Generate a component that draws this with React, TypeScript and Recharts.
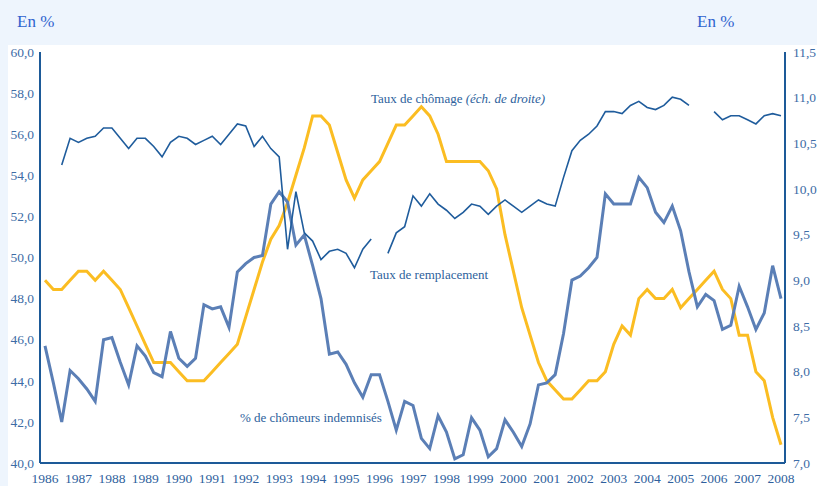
import { LineChart, Line, XAxis, YAxis } from "recharts";

// quarterly points, 1986 Q1 .. 2008 Q1
const startYear = 1986;

const yearTicks = [
  1986, 1987, 1988, 1989, 1990, 1991, 1992, 1993, 1994, 1995, 1996, 1997,
  1998, 1999, 2000, 2001, 2002, 2003, 2004, 2005, 2006, 2007, 2008,
];
const leftTicks = [40, 42, 44, 46, 48, 50, 52, 54, 56, 58, 60];
const rightTicks = [7, 7.5, 8, 8.5, 9, 9.5, 10, 10.5, 11, 11.5];

// % de chômeurs indemnisés (left axis)
const indemnises = [
  45.7, 43.9, 42.0, 44.5, 44.1, 43.6, 43.0, 46.0, 46.1, 44.9,
  43.8, 45.7, 45.2, 44.4, 44.2, 46.4, 45.1, 44.7, 45.1, 47.7,
  47.5, 47.6, 46.6, 49.3, 49.7, 50.0, 50.1, 52.6, 53.2, 52.7,
  50.6, 51.1, 49.6, 48.0, 45.3, 45.4, 44.8, 43.9, 43.2, 44.3,
  44.3, 43.0, 41.6, 43.0, 42.8, 41.2, 40.7, 42.3, 41.5, 40.2,
  40.4, 42.2, 41.6, 40.3, 40.7, 42.1, 41.5, 40.8, 41.9, 43.8,
  43.9, 44.3, 46.3, 48.9, 49.1, 49.5, 50.0, 53.1, 52.6, 52.6,
  52.6, 53.9, 53.4, 52.2, 51.7, 52.5, 51.3, 49.3, 47.6, 48.2,
  47.9, 46.5, 46.7, 48.6, 47.6, 46.5, 47.3, 49.6, 48.0,
];

// Taux de remplacement (left axis), gaps where no data
const remplacement: (number | null)[] = [
  null, null, 54.5, 55.8, 55.6, 55.8, 55.9, 56.3, 56.3, 55.8,
  55.3, 55.8, 55.8, 55.4, 54.9, 55.6, 55.9, 55.8, 55.5, 55.7,
  55.9, 55.5, 56.0, 56.5, 56.4, 55.4, 55.9, 55.3, 54.9, 50.4,
  53.2, 51.2, 50.8, 49.9, 50.3, 50.4, 50.2, 49.5, 50.4, 50.9,
  null, 50.2, 51.2, 51.5, 53.0, 52.5, 53.1, 52.6, 52.3, 51.9,
  52.2, 52.6, 52.5, 52.1, 52.5, 52.8, 52.5, 52.2, 52.5, 52.8,
  52.6, 52.5, 53.9, 55.2, 55.7, 56.0, 56.4, 57.1, 57.1, 57.0,
  57.4, 57.6, 57.3, 57.2, 57.4, 57.8, 57.7, 57.4, null, null,
  57.1, 56.7, 56.9, 56.9, 56.7, 56.5, 56.9, 57.0, 56.9,
];

// Taux de chômage (right axis)
const chomage = [
  9.0, 8.9, 8.9, 9.0, 9.1, 9.1, 9.0, 9.1, 9.0, 8.9,
  8.7, 8.5, 8.3, 8.1, 8.1, 8.1, 8.0, 7.9, 7.9, 7.9,
  8.0, 8.1, 8.2, 8.3, 8.6, 8.9, 9.2, 9.45, 9.6, 9.85,
  10.15, 10.45, 10.8, 10.8, 10.7, 10.4, 10.1, 9.9, 10.1, 10.2,
  10.3, 10.5, 10.7, 10.7, 10.8, 10.9, 10.8, 10.6, 10.3, 10.3,
  10.3, 10.3, 10.3, 10.2, 10.0, 9.5, 9.1, 8.7, 8.4, 8.1,
  7.9, 7.8, 7.7, 7.7, 7.8, 7.9, 7.9, 8.0, 8.3, 8.5,
  8.4, 8.8, 8.9, 8.8, 8.8, 8.9, 8.7, 8.8, 8.9, 9.0,
  9.1, 8.9, 8.8, 8.4, 8.4, 8.0, 7.9, 7.5, 7.2,
];

const data = indemnises.map((v, i) => ({
  t: startYear + i / 4,
  indemnises: v,
  remplacement: remplacement[i],
  chomage: chomage[i],
}));

const FONT = "'Liberation Serif', 'DejaVu Serif', serif";
const FRAME = "#1d5a98";
const TICK = "#3d6ca6";
const fmt = (v: number) => v.toFixed(1).replace(".", ",");

const note = (top: number, left: number, size: number, color: string): React.CSSProperties => ({
  position: "absolute",
  top,
  left,
  fontFamily: FONT,
  fontSize: size,
  lineHeight: `${size + 4}px`,
  color,
  whiteSpace: "nowrap",
});

export default function App() {
  const tickStyle = { fill: TICK, fontSize: 13.5, fontFamily: FONT };
  return (
    <div style={{ position: "absolute", left: 0, top: 0, width: 817, height: 486, background: "#eef5fd", overflow: "hidden" }}>
      <div style={{ position: "absolute", left: 8, top: 45, right: 0, bottom: 0, background: "#ffffff" }} />
      <LineChart
        width={817}
        height={486}
        data={data}
        margin={{ top: 52, right: 0, bottom: 0, left: 0 }}
        style={{ position: "absolute", left: 0, top: 0 }}
      >
        <XAxis
          dataKey="t"
          type="number"
          domain={[1986, 2008]}
          ticks={yearTicks}
          interval={0}
          padding={{ left: 5, right: 4 }}
          height={23}
          tickLine={false}
          tickSize={0}
          tickMargin={10}
          axisLine={{ stroke: FRAME, strokeWidth: 2 }}
          tick={{ ...tickStyle, fill: "#2f5f9d" }}
        />
        <XAxis
          xAxisId="top"
          orientation="top"
          dataKey="t"
          type="number"
          domain={[1986, 2008]}
          height={0}
          tick={false}
          tickLine={false}
          axisLine={{ stroke: FRAME, strokeWidth: 2 }}
        />
        <YAxis
          yAxisId="left"
          domain={[40, 60]}
          ticks={leftTicks}
          interval={0}
          width={40}
          tickLine={false}
          tickSize={3}
          tickMargin={3}
          tickFormatter={fmt}
          axisLine={{ stroke: FRAME, strokeWidth: 2 }}
          tick={tickStyle}
        />
        <YAxis
          yAxisId="right"
          orientation="right"
          domain={[7, 11.5]}
          ticks={rightTicks}
          interval={0}
          width={32}
          tickLine={false}
          tickFormatter={fmt}
          axisLine={{ stroke: FRAME, strokeWidth: 2 }}
          tick={tickStyle}
        />
        <Line
          yAxisId="right"
          dataKey="chomage"
          type="linear"
          stroke="#fbbd22"
          strokeWidth={3}
          dot={false}
          isAnimationActive={false}
        />
        <Line
          yAxisId="left"
          dataKey="indemnises"
          type="linear"
          stroke="#5b7fb6"
          strokeWidth={3}
          dot={false}
          isAnimationActive={false}
        />
        <Line
          yAxisId="left"
          dataKey="remplacement"
          type="linear"
          stroke="#1f5c9c"
          strokeWidth={1.6}
          dot={false}
          isAnimationActive={false}
        />
      </LineChart>
      <div style={note(11, 17, 17, "#2f63cf")}>En %</div>
      <div style={note(11, 697, 17, "#2f63cf")}>En %</div>
      <div style={note(90, 371, 13, "#2d5f9c")}>
        Taux de chômage <i>(éch. de droite)</i>
      </div>
      <div style={note(266, 370, 13, "#2d5f9c")}>Taux de remplacement</div>
      <div style={note(409, 240, 13, "#2d5f9c")}>% de chômeurs indemnisés</div>
    </div>
  );
}
